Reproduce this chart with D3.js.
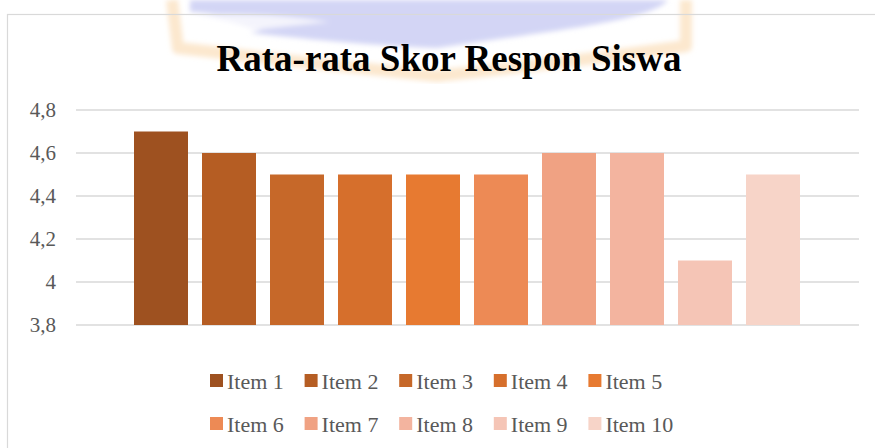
<!DOCTYPE html>
<html>
<head>
<meta charset="utf-8">
<script src="https://cdn.jsdelivr.net/npm/d3@7"></script>
<style>
  html, body { margin: 0; padding: 0; background: #fff; }
  svg { display: block; }
</style>
</head>
<body>
<svg id="chart" width="875" height="448"></svg>
<script>
// data
const items = ["Item 1", "Item 2", "Item 3", "Item 4", "Item 5", "Item 6", "Item 7", "Item 8", "Item 9", "Item 10"];
const skor = [4.7, 4.6, 4.5, 4.5, 4.5, 4.5, 4.6, 4.6, 4.1, 4.5];
const yTicks = [3.8, 4, 4.2, 4.4, 4.6, 4.8];
const warna = ["#9e5120", "#b55d23", "#c66829", "#d66f2c", "#e77a31", "#ed8a55", "#f0a283", "#f3b49f", "#f5c5b6", "#f7d4c8"];

const svg = d3.select('#chart');
const W = 875, H = 448;
const font = "'Liberation Serif', 'Times New Roman', Times, serif";

// watermark samar di belakang judul (logo buku)
svg.append('defs').append('filter')
  .attr('id', 'blur')
  .append('feGaussianBlur').attr('stdDeviation', 2.5);

const wm = svg.append('g').attr('filter', 'url(#blur)');
wm.append('path')
  .attr('d', 'M172,0 L178,48 Q300,62 437,76 Q570,62 686,46 L686,0')
  .attr('fill', 'none')
  .attr('stroke', '#fbe2c2')
  .attr('stroke-width', 12)
  .attr('stroke-linejoin', 'round')
  .attr('opacity', 0.8);
wm.append('path')
  .attr('d', 'M190,0 L668,0 C650,22 540,32 437,48 C360,45 300,38 250,33 C290,24 230,14 190,12 Z')
  .attr('fill', '#d3d5f5');
wm.append('path')
  .attr('d', 'M196,15 Q270,12 330,22 Q285,26 255,30 Q230,20 196,15 Z')
  .attr('fill', '#f4f4fc');

// bingkai chart
svg.append('rect')
  .attr('x', 7.5).attr('y', 14.5)
  .attr('width', W + 20).attr('height', H + 20)
  .attr('fill', 'none')
  .attr('stroke', '#d9d9d9')
  .attr('stroke-width', 1.2);

// judul
svg.append('text')
  .attr('x', 449).attr('y', 71)
  .attr('text-anchor', 'middle')
  .style('font-family', font)
  .style('font-weight', 'bold')
  .style('font-size', '37px')
  .attr('fill', '#000')
  .text('Rata-rata Skor Respon Siswa');

// area plot
const plot = { left: 76, right: 859, top: 110, bottom: 325 };
const y = d3.scaleLinear().domain([3.8, 4.8]).range([plot.bottom, plot.top]);
const x = d3.scaleBand()
  .domain(items)
  .range([plot.left + 58, plot.right - 59])
  .paddingInner(14 / 68)
  .paddingOuter(0);

// garis grid
svg.append('g')
  .selectAll('line')
  .data(yTicks)
  .join('line')
  .attr('x1', plot.left).attr('x2', plot.right)
  .attr('y1', d => y(d)).attr('y2', d => y(d))
  .attr('stroke', '#d9d9d9')
  .attr('stroke-width', 1.5);

// label sumbu y
svg.append('g')
  .selectAll('text')
  .data(yTicks)
  .join('text')
  .attr('x', 56)
  .attr('y', d => y(d))
  .attr('dy', '0.34em')
  .attr('text-anchor', 'end')
  .style('font-family', font)
  .style('font-size', '21px')
  .attr('fill', '#595959')
  .text(d => d3.format('.1~f')(d).replace('.', ','));

// batang
svg.append('g')
  .selectAll('rect')
  .data(items)
  .join('rect')
  .attr('x', d => x(d))
  .attr('width', x.bandwidth())
  .attr('y', (d, i) => y(skor[i]))
  .attr('height', (d, i) => y(3.8) - y(skor[i]))
  .attr('fill', (d, i) => warna[i]);

// legenda, 2 baris x 5
const legend = svg.append('g');
const leg = legend.selectAll('g')
  .data(items)
  .join('g')
  .attr('transform', (d, i) => `translate(${210 + (i % 5) * 94.6},${374 + Math.floor(i / 5) * 43})`);

leg.append('rect')
  .attr('width', 13).attr('height', 13)
  .attr('fill', (d, i) => warna[i]);

leg.append('text')
  .attr('x', 17).attr('y', 14.5)
  .style('font-family', font)
  .style('font-size', '22px')
  .attr('fill', '#595959')
  .text(d => d);
</script>
</body>
</html>
